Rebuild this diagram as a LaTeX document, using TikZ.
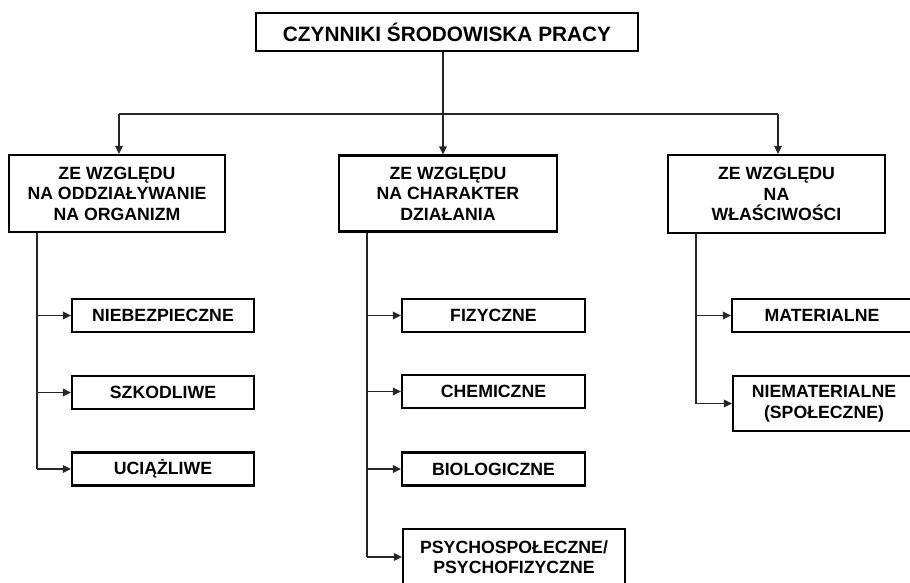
\documentclass[tikz,border=0pt]{standalone}
\usepackage{fontspec}
\setmainfont{Liberation Sans}
\usetikzlibrary{arrows.meta}
\tikzset{
  box/.style={draw=black, line width=2.2pt, fill=white, inner sep=0pt, align=center,
    font=\fontsize{17.7}{20.5}\selectfont\bfseries},
  topbox/.style={box, font=\fontsize{20.8}{23}\selectfont\bfseries},
  conn/.style={draw=black!85, line width=1.3pt},
  arr/.style={conn, -{Triangle[length=8pt,width=7.5pt]}}
}
\begin{document}
\begin{tikzpicture}[x=1pt,y=-1pt]
\useasboundingbox[fill=white] (0,0) rectangle (910,582);
% top
\node[topbox, minimum width=382pt, minimum height=38pt] (top) at (447,32) {CZYNNIKI ŚRODOWISKA PRACY};
% level 2
\node[box, minimum width=216pt, minimum height=77pt] (l2a) at (117,193.5) {ZE WZGLĘDU\\NA ODDZIAŁYWANIE\\NA ORGANIZM};
\node[box, minimum width=218pt, minimum height=76pt] (l2b) at (448,193.5) {ZE WZGLĘDU\\NA CHARAKTER\\DZIAŁANIA};
\node[box, minimum width=217pt, minimum height=78pt] (l2c) at (776.5,194) {ZE WZGLĘDU\\NA\\WŁAŚCIWOŚCI};
% level 3 left
\node[box, minimum width=182pt, minimum height=33pt] (n1) at (163,315.5) {NIEBEZPIECZNE};
\node[box, minimum width=182pt, minimum height=33pt] (n2) at (163,392.5) {SZKODLIWE};
\node[box, minimum width=182pt, minimum height=33pt] (n3) at (163,469) {UCIĄŻLIWE};
% level 3 middle
\node[box, minimum width=183pt, minimum height=33pt] (f1) at (493.5,315.5) {FIZYCZNE};
\node[box, minimum width=183pt, minimum height=33pt] (f2) at (493.5,391.5) {CHEMICZNE};
\node[box, minimum width=183pt, minimum height=33pt] (f3) at (493.5,469) {BIOLOGICZNE};
\node[box, minimum width=222pt, minimum height=56pt] (f4) at (514,557) {PSYCHOSPOŁECZNE/\\PSYCHOFIZYCZNE};
% level 3 right
\node[box, minimum width=180pt, minimum height=33pt] (m1) at (822,315.5) {MATERIALNE};
\node[box, minimum width=182pt, minimum height=55pt] (m2) at (824,403.5) {NIEMATERIALNE\\(SPOŁECZNE)};
% connectors level 1 -> 2
\coordinate (hl) at (119,114);
\coordinate (hm) at (443,114);
\coordinate (hr) at (778,114);
\draw[arr] (top.south -| hm) -- (l2b.north -| hm);
\draw[conn] (hl) -- (hr);
\draw[arr] (hl) -- (l2a.north -| hl);
\draw[arr] (hr) -- (l2c.north -| hr);
% trunks
\coordinate (tA) at (37,0);
\coordinate (tB) at (367,0);
\coordinate (tC) at (696,0);
\draw[conn] (l2a.south -| tA) -- (tA |- n3.west);
\draw[conn] (l2b.south -| tB) -- (tB |- f4.west);
\draw[conn] (l2c.south -| tC) -- (tC |- m2.west);
\foreach \n in {n1,n2,n3} \draw[arr] (tA |- \n.west) -- (\n.west);
\foreach \n in {f1,f2,f3,f4} \draw[arr] (tB |- \n.west) -- (\n.west);
\foreach \n in {m1,m2} \draw[arr] (tC |- \n.west) -- (\n.west);
\end{tikzpicture}
\end{document}
